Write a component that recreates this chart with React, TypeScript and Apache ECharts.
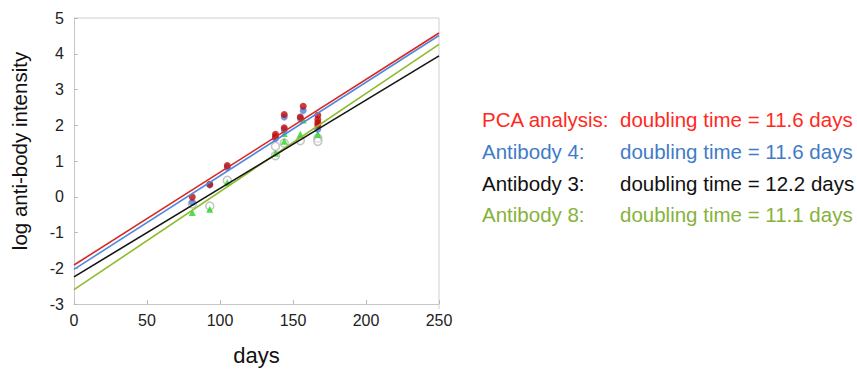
import React, { useEffect, useRef } from "react";
import * as echarts from "echarts";

const xTickMin = 0;
const xTickMax = 250;
const yTickMin = -3;
const yTickMax = 5;

// Fitted lines: [x, y] at the two ends
const pcaLine = [[0, -1.91], [250, 4.58]];
const ab4Line = [[0, -2.03], [250, 4.51]];
const ab3Line = [[0, -2.24], [250, 3.94]];
const ab8Line = [[0, -2.6], [250, 4.26]];

// Measured points
const pcaPoints = [
  [81, -0.01], [93, 0.35], [105, 0.87], [138, 1.75], [138, 1.68],
  [144, 2.3], [144, 1.93], [155, 2.23], [157, 2.53],
  [167, 2.28], [167, 2.16], [167, 2.07], [167, 2.0],
];
const ab4Points = [
  [81, -0.16], [93, 0.33], [105, 0.82], [138, 1.63],
  [144, 2.23], [144, 1.87], [155, 2.19], [157, 2.41], [167, 1.89],
];
const ab3Points = [
  [81, -0.2], [93, -0.26], [105, 0.46], [138, 1.41], [138, 1.15],
  [144, 1.5], [155, 1.57], [167, 1.64], [167, 1.55],
];
const ab8Points = [
  [81, -0.44], [93, -0.35], [105, 0.4], [138, 1.22],
  [144, 1.77], [144, 1.55], [155, 1.75], [157, 2.15], [167, 1.75],
];

const yTitle = "log anti-body intensity";
const xTitle = "days";
const legendNames = ["PCA analysis:", "Antibody 4:", "Antibody 3:", "Antibody 8:"];
const legendTexts = [
  "doubling time = 11.6 days",
  "doubling time = 11.6 days",
  "doubling time = 12.2 days",
  "doubling time = 11.1 days",
];
const legendColors = ["#ff2a1e", "#3f7bc8", "#111111", "#86b23a"];
const lineColors = ["#d8281e", "#5088e0", "#151515", "#8cbc2c"];

export default function App() {
  const ref = useRef<HTMLDivElement>(null);
  useEffect(() => {
    const chart = echarts.init(ref.current!, null, { renderer: "svg" });
    const font = "Liberation Sans, Arial, Helvetica, sans-serif";
    const legendY = [119, 151, 183, 214];
    const graphics: any[] = [];
    legendNames.forEach((n, i) => {
      graphics.push({
        type: "text",
        x: 482,
        y: legendY[i],
        style: { text: n, fill: legendColors[i], font: `20.5px ${font}`, verticalAlign: "middle" },
      });
      graphics.push({
        type: "text",
        x: 620,
        y: legendY[i],
        style: { text: legendTexts[i], fill: legendColors[i], font: `20.5px ${font}`, verticalAlign: "middle" },
      });
    });
    graphics.push({
      type: "text",
      x: 19,
      y: 151,
      rotation: Math.PI / 2,
      style: { text: yTitle, fill: "#111", font: `20.5px ${font}`, align: "center", verticalAlign: "middle" },
    });
    const lineSeries = (data: number[][], color: string) => ({
      type: "line",
      data,
      symbol: "none",
      lineStyle: { color, width: 1.6 },
      silent: true,
    });
    chart.setOption({
      animation: false,
      grid: { left: 74, top: 18, right: 418, bottom: 62, containLabel: false },
      xAxis: {
        type: "value",
        min: xTickMin,
        max: xTickMax,
        interval: 50,
        name: xTitle,
        nameLocation: "middle",
        nameGap: 40,
        nameTextStyle: { fontSize: 22, color: "#111", fontFamily: font },
        axisLine: { show: true, onZero: false, lineStyle: { color: "#c8c8c8", width: 1 } },
        axisTick: { show: true, inside: true, length: 4, lineStyle: { color: "#bbbbbb" } },
        axisLabel: { fontSize: 16, color: "#222", fontFamily: font, margin: 8 },
        splitLine: { show: false },
      },
      yAxis: {
        type: "value",
        min: yTickMin,
        max: yTickMax,
        interval: 1,
        axisLine: { show: true, onZero: false, lineStyle: { color: "#c8c8c8", width: 1 } },
        axisTick: { show: true, inside: true, length: 4, lineStyle: { color: "#bbbbbb" } },
        axisLabel: { fontSize: 16, color: "#222", fontFamily: font, margin: 10 },
        splitLine: { show: false },
      },
      graphic: [
        {
          type: "polyline",
          shape: { points: [[74, 18], [439, 18], [439, 309]] },
          style: { stroke: "#d0d0d0", lineWidth: 1, fill: "none" },
          silent: true,
        },
        ...graphics,
      ],
      series: [
        lineSeries(ab8Line, lineColors[3]),
        lineSeries(ab3Line, lineColors[2]),
        lineSeries(ab4Line, lineColors[1]),
        lineSeries(pcaLine, lineColors[0]),
        {
          type: "scatter",
          data: ab3Points,
          symbol: "circle",
          symbolSize: 8,
          itemStyle: { color: "rgba(255,255,255,0.6)", borderColor: "#b5b5b5", borderWidth: 1.5 },
        },
        {
          type: "scatter",
          data: ab8Points,
          symbol: "triangle",
          symbolSize: 7,
          itemStyle: { color: "#1fd81f" },
        },
        {
          type: "scatter",
          data: ab4Points,
          symbol: "circle",
          symbolSize: 7,
          itemStyle: { color: "#4a82e0" },
        },
        {
          type: "scatter",
          data: pcaPoints,
          symbol: "circle",
          symbolSize: 7,
          itemStyle: { color: "#c00a0a" },
        },
      ],
    });
    return () => chart.dispose();
  }, []);
  return <div ref={ref} style={{ width: 857, height: 371, position: "absolute", left: 0, top: 0 }} />;
}
